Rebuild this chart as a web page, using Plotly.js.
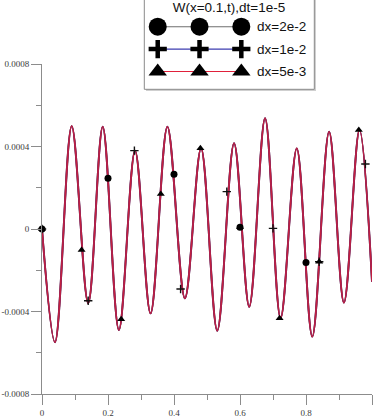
<!DOCTYPE html>
<html>
<head>
<meta charset="utf-8">
<script src="https://cdn.plot.ly/plotly-3.0.1.min.js"></script>
<style>html,body{margin:0;padding:0;background:#fff;}#chart{width:374px;height:418px;}</style>
</head>
<body>
<div id="chart"></div>
<script>
// ---- data ----
var chartTitle = "W(x=0.1,t),dt=1e-5";
var seriesNames = ["dx=2e-2", "dx=1e-2", "dx=5e-3"];

// W(t) curve (the three resolutions coincide on the scale of the plot)
var curveT = [0, 0.0394, 0.090, 0.140, 0.184, 0.233, 0.282, 0.329, 0.380, 0.433, 0.482,
              0.531, 0.582, 0.628, 0.676, 0.723, 0.772, 0.819, 0.870, 0.915, 0.962, 1.0];
var curveW = [0, -0.000549, 0.000499, -0.000360, 0.000496, -0.000490, 0.000380, -0.000409,
              0.000496, -0.000336, 0.000391, -0.000493, 0.000416, -0.000377, 0.000537,
              -0.000433, 0.000391, -0.000522, 0.000472, -0.000357, 0.000480, -0.000256];

// marker samples of each series
var dx2e2T = [0, 0.2, 0.4, 0.6, 0.8];
var dx2e2W = [0, 0.000246, 0.000265, 0.000008, -0.000163];
var dx1e2T = [0, 0.14, 0.28, 0.42, 0.56, 0.70, 0.84, 0.98];
var dx1e2W = [0, -0.000348, 0.000380, -0.000291, 0.000181, 0.000003, -0.000159, 0.000315];
var dx5e3T = [0, 0.12, 0.24, 0.36, 0.48, 0.60, 0.72, 0.84, 0.96];
var dx5e3W = [0, -0.000102, -0.000438, 0.000170, 0.000391, 0.000008, -0.000433, -0.000159, 0.000480];

var xTickVals = [0, 0.2, 0.4, 0.6, 0.8, 1];
var xTickText = ["0", "0.2", "0.4", "0.6", "0.8", "1"];
var yTickVals = [-0.0008, -0.0004, 0, 0.0004, 0.0008];
var yTickText = ["-0.0008", "-0.0004", "0", "0.0004", "0.0008"];

// legend key sample slots (legend-box units)
var keyX = [0, 1, 2];
var keyRow = [2, 1, 0];

// ---- styles ----
var lineColors = ["#6a2a40", "#6a2a70", "#c21f40"];
var legendLineColors = ["#6e6e6e", "#3c3cb0", "#e0203a"];
var axisColor = "#8c8c8c";
function tickFont() { return {family: "Liberation Serif", size: 9, color: "#3c3c3c"}; }
function textFont() { return {family: "Liberation Sans", size: 13.5, color: "#111111"}; }

var traces = [];
// main lines
[0, 1, 2].forEach(function (i) {
  traces.push({
    x: curveT, y: curveW, type: "scatter", mode: "lines",
    line: {color: lineColors[i], width: i === 2 ? 1.5 : 1.9, shape: "spline", smoothing: 1},
    xaxis: "x", yaxis: "y", hoverinfo: "skip", showlegend: false
  });
});
// main markers
traces.push({x: dx2e2T, y: dx2e2W, type: "scatter", mode: "markers",
  marker: {symbol: "circle", size: 7, color: "#000"}, cliponaxis: false, showlegend: false});
traces.push({x: dx1e2T, y: dx1e2W, type: "scatter", mode: "markers",
  marker: {symbol: "cross-thin", size: 6, line: {color: "#111", width: 1.4}}, cliponaxis: false, showlegend: false});
traces.push({x: dx5e3T, y: dx5e3W, type: "scatter", mode: "markers",
  marker: {symbol: "triangle-up", size: 7, color: "#000"}, cliponaxis: false, showlegend: false});

// legend keys
var keySymbols = [
  {symbol: "circle", size: 18, color: "#000"},
  {symbol: "cross-thin", size: 13, line: {color: "#000", width: 4.5}},
  {symbol: "triangle-up", size: 16, color: "#000"}
];
[0, 1, 2].forEach(function (i) {
  traces.push({
    x: keyX, y: keyX.map(function () { return keyRow[i]; }),
    type: "scatter", mode: "lines+markers",
    line: {color: legendLineColors[i], width: 1.1},
    marker: keySymbols[i], cliponaxis: false,
    xaxis: "x2", yaxis: "y2", hoverinfo: "skip", showlegend: false
  });
});

var W = 374, H = 418;
var layout = {
  width: W, height: H,
  margin: {l: 0, r: 0, t: 0, b: 0, pad: 0},
  paper_bgcolor: "#fff", plot_bgcolor: "rgba(0,0,0,0)",
  showlegend: false,
  font: {family: "Liberation Sans", color: "#111111"},
  title: {text: chartTitle, font: textFont(), x: 229 / W, xanchor: "center",
          y: 1 - 7.5 / H, yanchor: "middle", xref: "paper", yref: "paper"},
  xaxis: {
    domain: [42 / W, 372 / W], range: [0, 1], anchor: "y",
    showline: true, linecolor: axisColor, linewidth: 1,
    showgrid: false, zeroline: false,
    tickmode: "array", tickvals: xTickVals, ticktext: xTickText,
    ticks: "outside", ticklen: 10, tickwidth: 1, tickcolor: axisColor,
    tickfont: tickFont(), color: "#3c3c3c",
    minor: {dtick: 0.1, tick0: 0, ticks: "outside", ticklen: 5, tickwidth: 1, tickcolor: axisColor, showgrid: false}
  },
  yaxis: {
    domain: [24 / H, 354 / H], range: [-0.0008, 0.0008], anchor: "x",
    showline: true, linecolor: axisColor, linewidth: 1,
    showgrid: false, zeroline: false,
    tickmode: "array", tickvals: yTickVals, ticktext: yTickText,
    ticks: "outside", ticklen: 10, tickwidth: 1, tickcolor: axisColor,
    tickfont: tickFont(), color: "#3c3c3c",
    minor: {dtick: 0.0002, tick0: 0, ticks: "outside", ticklen: 5, tickwidth: 1, tickcolor: axisColor, showgrid: false}
  },
  xaxis2: {
    domain: [144.3 / W, 314.3 / W], range: [-0.321, 3.746], anchor: "y2",
    visible: false, fixedrange: true
  },
  yaxis2: {
    domain: [1 - 89.3 / H, 1], range: [-0.795, 3.192], anchor: "x2",
    visible: false, fixedrange: true
  },
  shapes: [
    {type: "rect", xref: "paper", yref: "paper", layer: "below",
     x0: 146 / W, x1: 316 / W, y0: 1 - 91 / H, y1: 1.05,
     fillcolor: "#cfcfcf", line: {width: 0}},
    {type: "rect", xref: "paper", yref: "paper", layer: "below",
     x0: 144.3 / W, x1: 314.3 / W, y0: 1 - 89.3 / H, y1: 1.05,
     fillcolor: "#fff", line: {color: "#8a8a8a", width: 1}}
  ],
  annotations: seriesNames.map(function (name, i) {
    return {text: name, xref: "x2", yref: "y2", x: 2.33, y: keyRow[i],
            xanchor: "left", yanchor: "middle", showarrow: false, font: textFont()};
  })
};

Plotly.newPlot("chart", traces, layout, {staticPlot: true, displayModeBar: false});
</script>
</body>
</html>
